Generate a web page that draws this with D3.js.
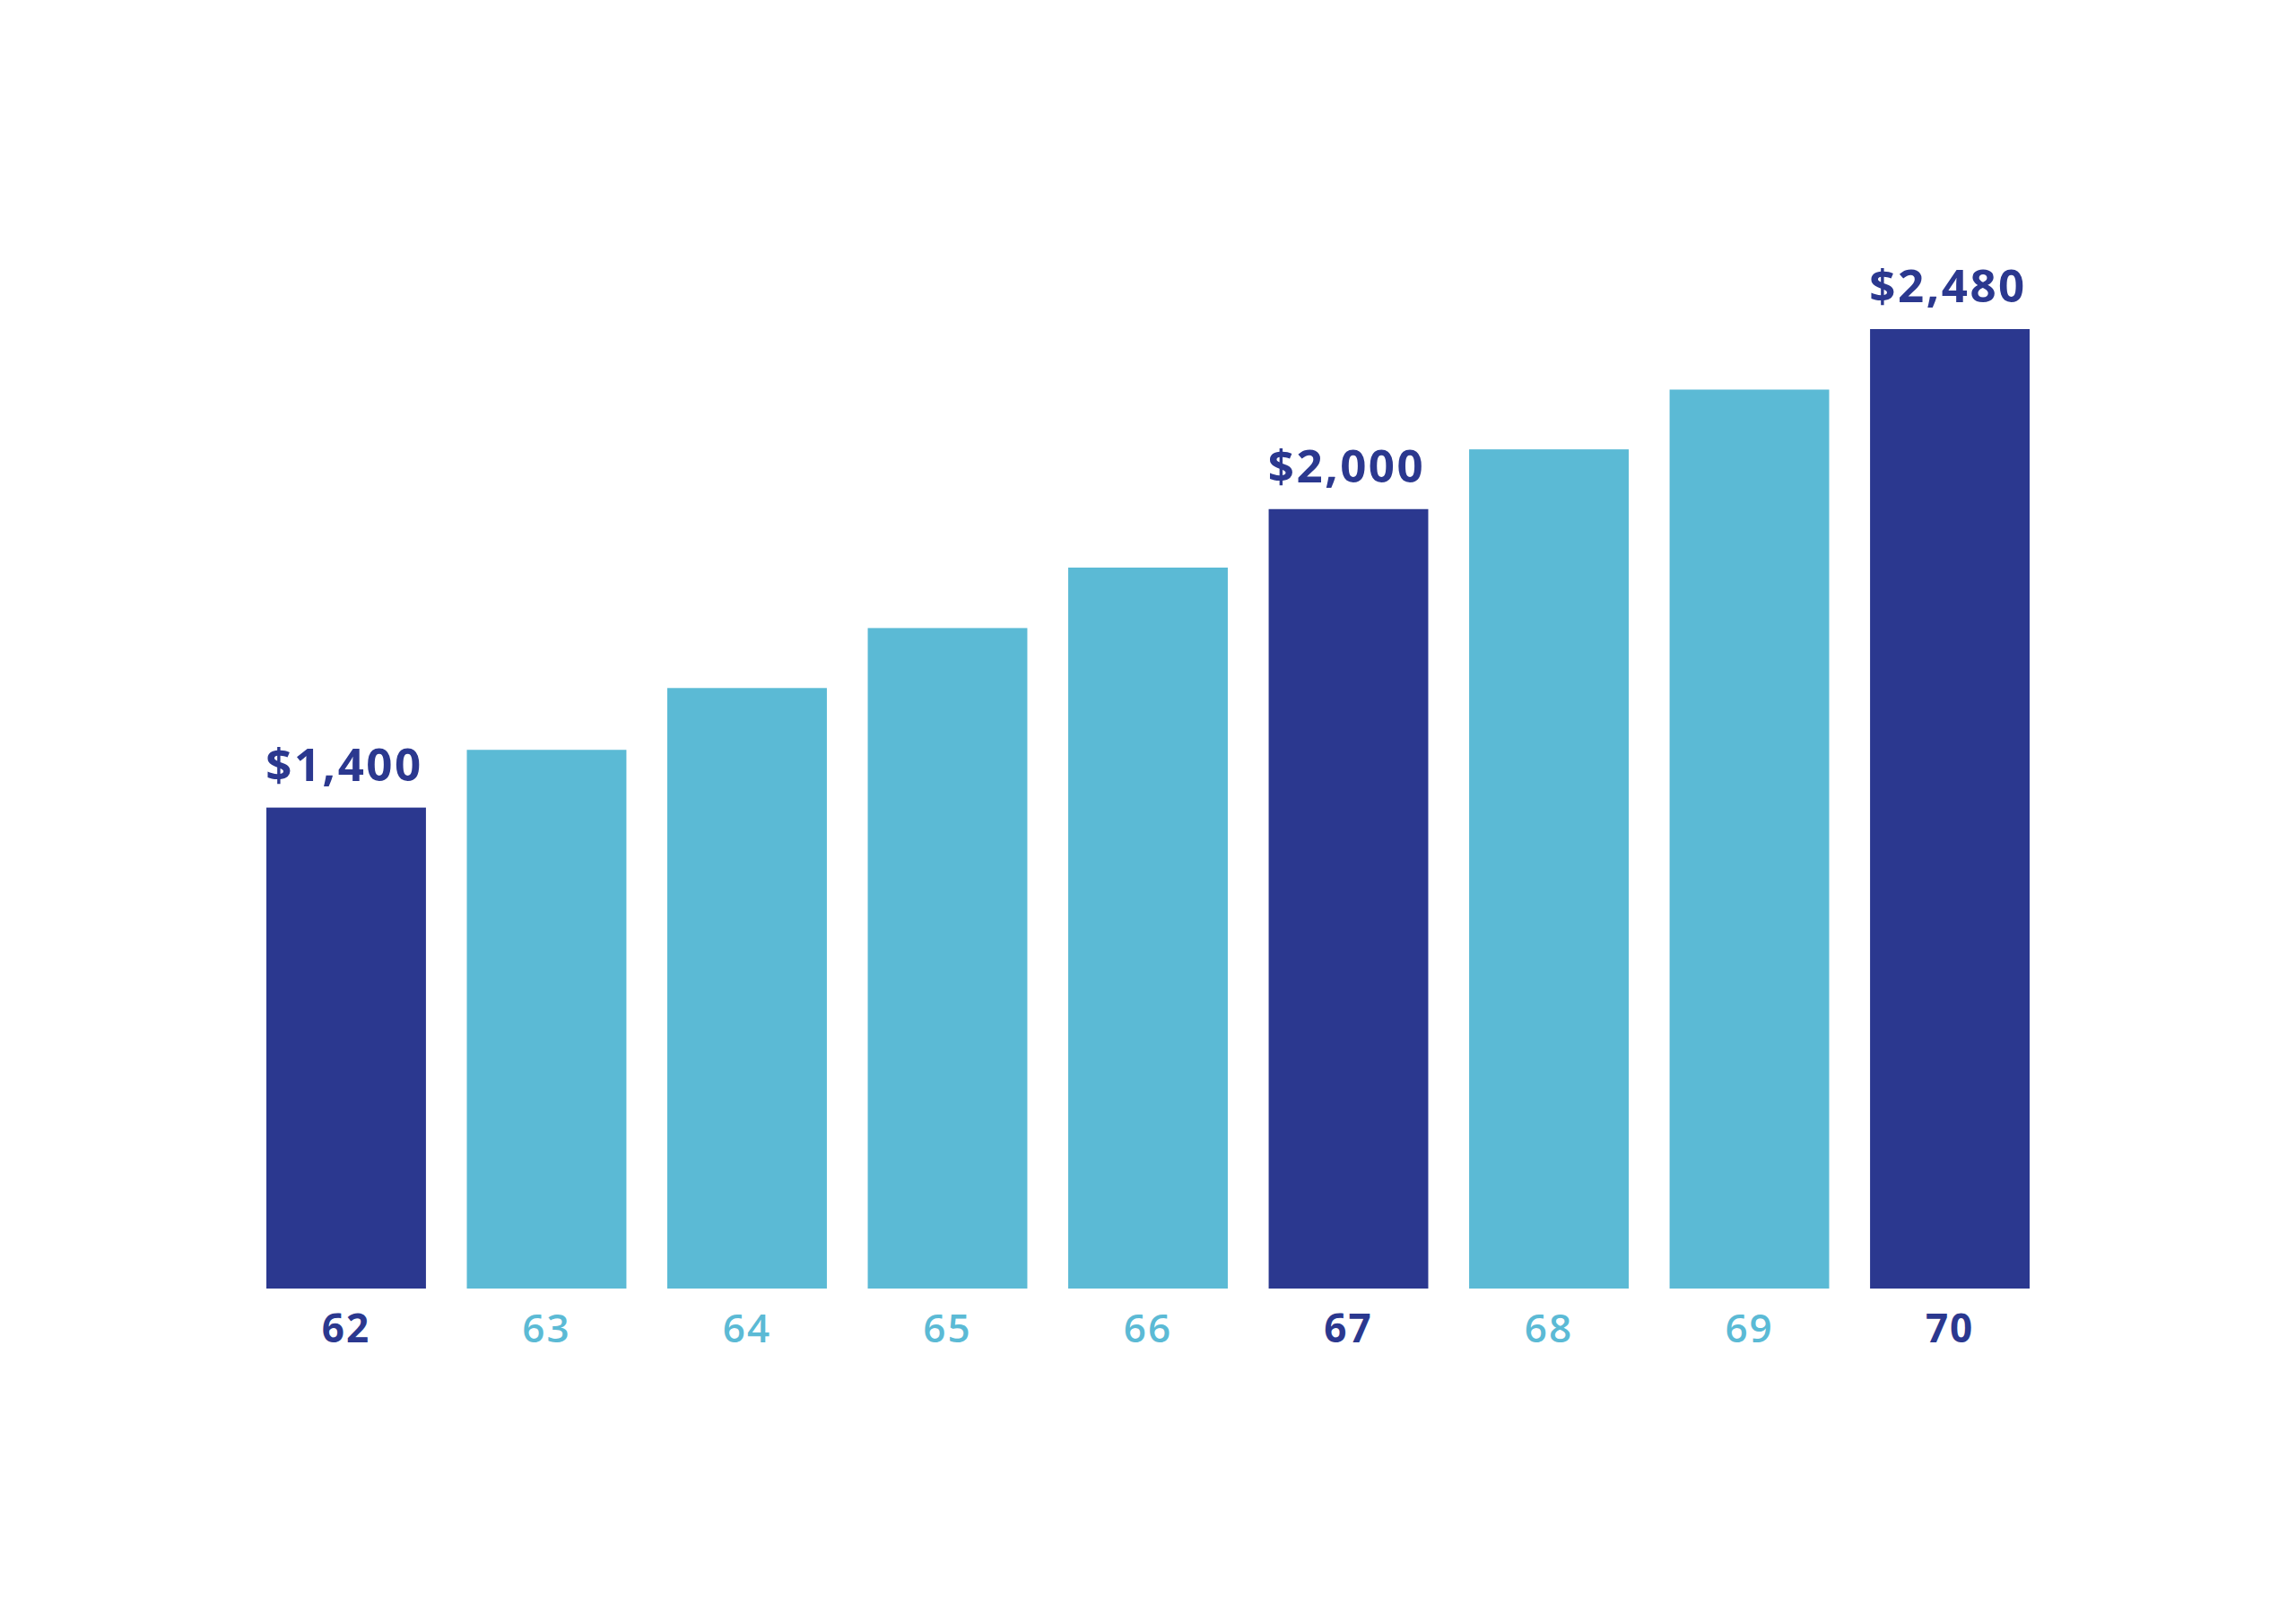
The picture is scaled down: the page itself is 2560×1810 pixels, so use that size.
<!DOCTYPE html>
<html>
<head>
<meta charset="utf-8">
<script src="https://cdn.jsdelivr.net/npm/d3@7"></script>
<style>
    html, body { margin: 0; padding: 0; background: #ffffff; }
    svg { display: block; }
    .value-label { font-family: "Open Sans", sans-serif; font-weight: 700; }
    .x.axis text { font-family: "Open Sans", sans-serif; }
</style>
</head>
<body>
<svg id="chart"></svg>
<script>
    // ages and monthly benefit
    const ages = ['62', '63', '64', '65', '66', '67', '68', '69', '70'];
    const benefits = [1400, 1500, 1615, 1735, 1865, 2000, 2148, 2307, 2480];
    // ages that are highlighted (dark bar + label)
    const highlighted = ['62', '67', '70'];
    const baseValue = 788;

    const width = 2560, height = 1810;
    const dark = '#2b388f', light = '#5bbad5';

    const svg = d3.select('#chart').attr('width', width).attr('height', height);

    const x = d3.scaleBand()
        .domain(ages)
        .range([297, 2263])
        .paddingInner(0.204)
        .paddingOuter(0);

    // bars grow on a log scale in the original
    const y = d3.scaleLog()
        .domain([baseValue, d3.max(benefits)])
        .range([1437, 367]);

    const data = ages.map((a, i) => ({age: a, value: benefits[i], hi: highlighted.includes(a)}));

    svg.append('g').attr('class', 'bars')
        .selectAll('rect')
        .data(data)
        .enter()
        .append('rect')
            .attr('x', d => x(d.age))
            .attr('y', d => y(d.value))
            .attr('width', x.bandwidth())
            .attr('height', d => y(baseValue) - y(d.value))
            .attr('fill', d => d.hi ? dark : light);

    svg.append('g').attr('class', 'labels')
        .selectAll('text')
        .data(data.filter(d => d.hi))
        .enter()
        .append('text')
            .attr('class', 'value-label')
            .attr('x', d => x(d.age) + x.bandwidth() / 2 - 2)
            .attr('y', d => y(d.value) - 30)
            .attr('text-anchor', 'middle')
            .attr('fill', dark)
            .attr('font-size', 51)
            .attr('letter-spacing', 2.5)
            .text(d => d3.format('$,')(d.value));

    const axis = svg.append('g')
        .attr('class', 'x axis')
        .attr('transform', 'translate(0,' + y(baseValue) + ')')
        .call(d3.axisBottom(x).tickSize(0));

    axis.select('.domain').remove();
    axis.selectAll('text')
        .attr('y', 60)
        .attr('dy', 0)
        .attr('font-size', 44)
        .attr('letter-spacing', 2)
        .attr('font-weight', d => highlighted.includes(d) ? 700 : 600)
        .attr('fill', d => highlighted.includes(d) ? dark : light);
</script>
</body>
</html>
